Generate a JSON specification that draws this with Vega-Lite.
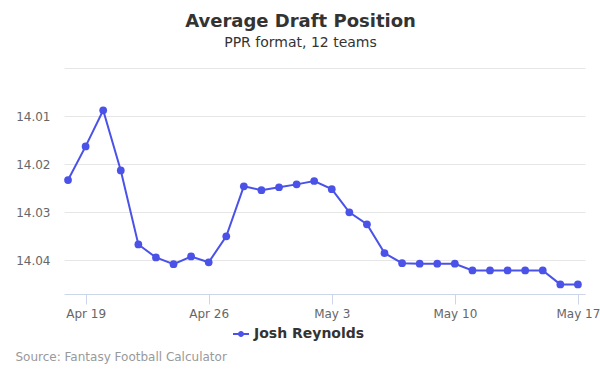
{
  "$schema": "https://vega.github.io/schema/vega-lite/v6.json",
  "autosize": "none",
  "width": 521,
  "height": 226,
  "padding": {"left": 64, "top": 68, "right": 15, "bottom": 81},
  "background": "white",
  "title": {
    "text": "Average Draft Position",
    "subtitle": "PPR format, 12 teams",
    "anchor": "middle",
    "dx": -24,
    "offset": 18,
    "font": "DejaVu Sans",
    "fontSize": 18,
    "fontWeight": "bold",
    "color": "#333333",
    "subtitleFont": "DejaVu Sans",
    "subtitleFontSize": 14,
    "subtitleColor": "#333333",
    "subtitlePadding": 5
  },
  "data": {
    "values": [
      {"date": "2020-04-18T00:00:00", "adp": 14.0233, "player": "Josh Reynolds"},
      {"date": "2020-04-19T00:00:00", "adp": 14.0163, "player": "Josh Reynolds"},
      {"date": "2020-04-20T00:00:00", "adp": 14.0088, "player": "Josh Reynolds"},
      {"date": "2020-04-21T00:00:00", "adp": 14.0213, "player": "Josh Reynolds"},
      {"date": "2020-04-22T00:00:00", "adp": 14.0367, "player": "Josh Reynolds"},
      {"date": "2020-04-23T00:00:00", "adp": 14.0394, "player": "Josh Reynolds"},
      {"date": "2020-04-24T00:00:00", "adp": 14.0408, "player": "Josh Reynolds"},
      {"date": "2020-04-25T00:00:00", "adp": 14.0392, "player": "Josh Reynolds"},
      {"date": "2020-04-26T00:00:00", "adp": 14.0404, "player": "Josh Reynolds"},
      {"date": "2020-04-27T00:00:00", "adp": 14.035, "player": "Josh Reynolds"},
      {"date": "2020-04-28T00:00:00", "adp": 14.0246, "player": "Josh Reynolds"},
      {"date": "2020-04-29T00:00:00", "adp": 14.0254, "player": "Josh Reynolds"},
      {"date": "2020-04-30T00:00:00", "adp": 14.0248, "player": "Josh Reynolds"},
      {"date": "2020-05-01T00:00:00", "adp": 14.0242, "player": "Josh Reynolds"},
      {"date": "2020-05-02T00:00:00", "adp": 14.0235, "player": "Josh Reynolds"},
      {"date": "2020-05-03T00:00:00", "adp": 14.0252, "player": "Josh Reynolds"},
      {"date": "2020-05-04T00:00:00", "adp": 14.03, "player": "Josh Reynolds"},
      {"date": "2020-05-05T00:00:00", "adp": 14.0325, "player": "Josh Reynolds"},
      {"date": "2020-05-06T00:00:00", "adp": 14.0385, "player": "Josh Reynolds"},
      {"date": "2020-05-07T00:00:00", "adp": 14.0406, "player": "Josh Reynolds"},
      {"date": "2020-05-08T00:00:00", "adp": 14.0407, "player": "Josh Reynolds"},
      {"date": "2020-05-09T00:00:00", "adp": 14.0407, "player": "Josh Reynolds"},
      {"date": "2020-05-10T00:00:00", "adp": 14.0407, "player": "Josh Reynolds"},
      {"date": "2020-05-11T00:00:00", "adp": 14.0421, "player": "Josh Reynolds"},
      {"date": "2020-05-12T00:00:00", "adp": 14.0421, "player": "Josh Reynolds"},
      {"date": "2020-05-13T00:00:00", "adp": 14.0421, "player": "Josh Reynolds"},
      {"date": "2020-05-14T00:00:00", "adp": 14.0421, "player": "Josh Reynolds"},
      {"date": "2020-05-15T00:00:00", "adp": 14.0421, "player": "Josh Reynolds"},
      {"date": "2020-05-16T00:00:00", "adp": 14.045, "player": "Josh Reynolds"},
      {"date": "2020-05-17T00:00:00", "adp": 14.045, "player": "Josh Reynolds"}
    ]
  },
  "encoding": {
    "x": {
      "field": "date",
      "type": "temporal",
      "scale": {"domain": [{"year": 2020, "month": 4, "date": 17, "hours": 18, "minutes": 30}, {"year": 2020, "month": 5, "date": 17, "hours": 9, "minutes": 40}]},
      "axis": {
        "values": [
          {"year": 2020, "month": 4, "date": 19},
          {"year": 2020, "month": 4, "date": 26},
          {"year": 2020, "month": 5, "date": 3},
          {"year": 2020, "month": 5, "date": 10},
          {"year": 2020, "month": 5, "date": 17}
        ],
        "format": "%b %-d",
        "grid": false,
        "domainColor": "#ccd6eb",
        "tickColor": "#ccd6eb",
        "tickSize": 10,
        "labelPadding": 4,
        "labelFont": "DejaVu Sans",
        "labelFontSize": 12,
        "labelColor": "#666666",
        "title": "Source: Fantasy Football Calculator",
        "titleX": -49,
        "titleY": 62,
        "titleAlign": "left",
        "titleAnchor": "start",
        "titleBaseline": "middle",
        "titleFont": "DejaVu Sans",
        "titleFontSize": 12,
        "titleFontWeight": "normal",
        "titleColor": "#999999"
      }
    },
    "y": {
      "field": "adp",
      "type": "quantitative",
      "scale": {"domain": [14.0, 14.047], "reverse": true, "nice": false, "zero": false},
      "axis": {
        "values": [14.0, 14.01, 14.02, 14.03, 14.04],
        "labelExpr": "datum.value < 14.005 ? '' : format(datum.value, '.2f')",
        "domain": false,
        "ticks": false,
        "gridColor": "#e6e6e6",
        "labelPadding": 14,
        "labelFont": "DejaVu Sans",
        "labelFontSize": 12,
        "labelColor": "#666666",
        "title": null
      }
    },
    "color": {
      "field": "player",
      "type": "nominal",
      "scale": {"range": ["#4a52e8"]},
      "legend": {
        "title": null,
        "orient": "none",
        "legendX": 170,
        "legendY": 259,
        "symbolType": "M-1.6,-0.2L1.6,-0.2L1.6,0.2L-1.6,0.2Z M0.6,0A0.6,0.6 0 1,1 -0.6,0A0.6,0.6 0 1,1 0.6,0Z",
        "symbolSize": 100,
        "symbolStrokeWidth": 0,
        "labelFont": "DejaVu Sans",
        "labelFontSize": 14,
        "labelFontWeight": "bold",
        "labelColor": "#333333",
        "labelOffset": 6
      }
    }
  },
  "layer": [
    {"mark": {"type": "line", "strokeWidth": 2}},
    {"mark": {"type": "point", "filled": true, "opacity": 1, "size": 60}}
  ],
  "config": {"view": {"stroke": null}}
}
